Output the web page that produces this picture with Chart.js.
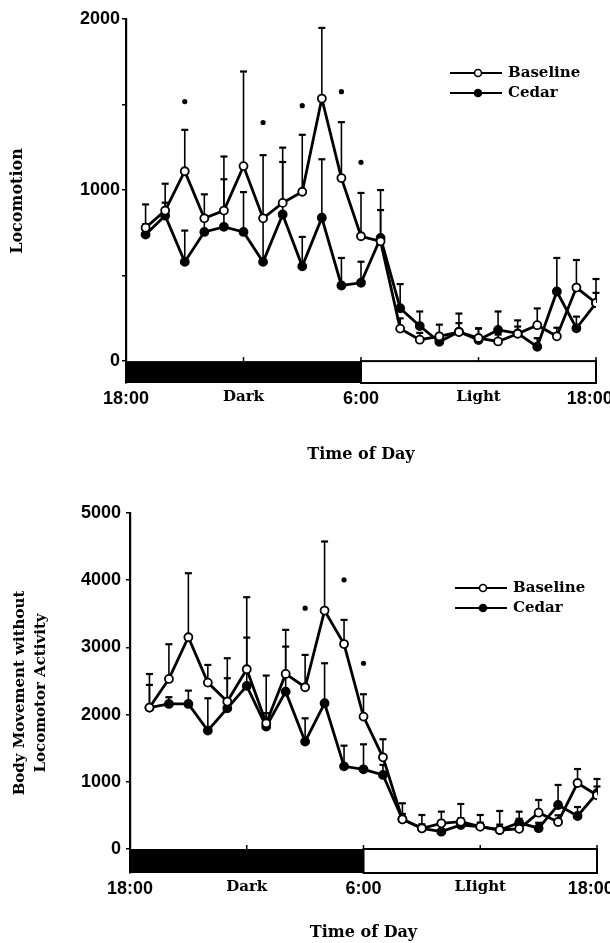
<!DOCTYPE html>
<html>
<head>
<meta charset="utf-8">
<script src="https://cdn.jsdelivr.net/npm/chart.js@4.4.0/dist/chart.umd.min.js"></script>
<style>
  html, body { margin: 0; padding: 0; background: #fff; }
  body { width: 610px; height: 943px; overflow: hidden; position: relative; }
  .panel { position: absolute; left: 0; width: 610px; }
  #top { top: 0; height: 470px; }
  #bottom { top: 470px; height: 473px; }
</style>
</head>
<body>
<div class="panel" id="top"><canvas id="locoChart"></canvas></div>
<div class="panel" id="bottom"><canvas id="bodyChart"></canvas></div>
<script>
// hour after 18:00 (1 = 19:00 ... 24 = 18:00)
const hours = [1, 2, 3, 4, 5, 6, 7, 8, 9, 10, 11, 12, 13, 14, 15, 16, 17, 18, 19, 20, 21, 22, 23, 24];
const timeTicks = [0, 6, 12, 18, 24];
// trailing spaces pull the last label back inside the page
const timeLabelsTop = ['18:00', 'Dark', '6:00', 'Light', '18:00\u2002\u2009'];
const timeLabelsBottom = ['18:00', 'Dark', '6:00', 'LIight', '18:00\u2002\u2009'];

// Locomotion
const locoBaseline = [780, 880, 1110, 835, 880, 1140, 835, 925, 990, 1535, 1070, 730, 700, 190, 125, 145, 170, 135, 115, 160, 210, 145, 430, 340];
const locoBaselineErr = [136, 157, 242, 140, 316, 553, 369, 323, 333, 413, 327, 253, 183, 60, 40, 68, 108, 55, 40, 78, 98, 50, 161, 140];
const locoCedar = [740, 850, 580, 755, 785, 755, 580, 857, 554, 838, 442, 458, 720, 309, 205, 113, 172, 123, 182, 162, 84, 407, 192, 339];
const locoCedarErr = [60, 76, 183, 80, 278, 233, 250, 307, 172, 342, 161, 123, 280, 141, 85, 40, 50, 69, 108, 40, 50, 196, 68, 60];
const locoStarHours = [3, 7, 9, 11, 12];
const locoStarValues = [1517, 1395, 1493, 1575, 1162];
const locoTicks = [0, 500, 1000, 1500, 2000];

// Body movement without locomotor activity
const bodyBaseline = [2104, 2531, 3151, 2476, 2194, 2675, 1871, 2605, 2407, 3548, 3050, 1970, 1365, 442, 308, 382, 407, 333, 283, 300, 540, 402, 982, 800];
const bodyBaselineErr = [500, 516, 953, 263, 645, 1072, 710, 656, 481, 1028, 359, 333, 268, 238, 198, 174, 263, 173, 283, 256, 190, 100, 208, 242];
const bodyCedar = [2104, 2159, 2159, 1762, 2094, 2427, 1821, 2342, 1598, 2169, 1230, 1186, 1102, 442, 308, 258, 357, 333, 283, 390, 310, 655, 491, 830];
const bodyCedarErr = [338, 100, 198, 481, 447, 719, 200, 670, 347, 595, 308, 372, 150, 80, 60, 100, 100, 60, 80, 60, 80, 298, 134, 100];
const bodyStarHours = [9, 11, 12];
const bodyStarValues = [3583, 4005, 2764];
const bodyTicks = [0, 1000, 2000, 3000, 4000, 5000];

Chart.defaults.font.family = 'DejaVu Serif';
Chart.defaults.font.weight = 'bold';
Chart.defaults.color = '#000';

const sansBold = { family: 'Liberation Sans', size: 18, weight: 'bold' };
const serifBold = { family: 'DejaVu Serif', size: 15, weight: 'bold' };

function series(label, values, errors, filled) {
    return {
        label: label,
        data: hours.map((h, i) => ({ x: h, y: values[i] })),
        errors: errors,
        keyed: true,
        borderColor: '#000',
        borderWidth: 2.8,
        tension: 0,
        pointRadius: 4,
        pointBorderWidth: 1.8,
        pointBorderColor: '#000',
        pointBackgroundColor: filled ? '#000' : '#fff'
    };
}

function stars(hrs, vals) {
    return {
        label: '*',
        data: hrs.map((h, i) => ({ x: h, y: vals[i] })),
        showLine: false,
        pointRadius: 2.6,
        pointBorderWidth: 0,
        pointBackgroundColor: '#000'
    };
}

// light/dark bar under the zero line
const phaseBar = {
    id: 'phaseBar',
    beforeDatasetsDraw(chart) {
        const { ctx, scales: { x, y } } = chart;
        const top = y.getPixelForValue(0);
        const bot = y.getPixelForValue(y.min);
        const x0 = x.getPixelForValue(0), x12 = x.getPixelForValue(12), x24 = x.getPixelForValue(24);
        ctx.save();
        ctx.fillStyle = '#000';
        ctx.fillRect(x0, top, x12 - x0, bot - top);
        ctx.strokeStyle = '#000';
        ctx.lineWidth = 2;
        ctx.strokeRect(x12, top, x24 - x12, bot - top);
        ctx.lineWidth = 1.5;
        timeTicks.forEach(t => {
            const px = x.getPixelForValue(t);
            ctx.beginPath();
            ctx.moveTo(px, top);
            ctx.lineTo(px, top - 4);
            ctx.stroke();
        });
        ctx.restore();
    }
};

// upward error bars
const errorBars = {
    id: 'errorBars',
    beforeDatasetsDraw(chart) {
        const { ctx, scales: { x, y } } = chart;
        ctx.save();
        ctx.strokeStyle = '#000';
        chart.data.datasets.forEach(ds => {
            if (!ds.errors) return;
            ds.data.forEach((p, i) => {
                const px = x.getPixelForValue(p.x);
                const y1 = y.getPixelForValue(p.y);
                const y2 = y.getPixelForValue(p.y + ds.errors[i]);
                ctx.lineWidth = 1.6;
                ctx.beginPath();
                ctx.moveTo(px, y1);
                ctx.lineTo(px, y2);
                ctx.stroke();
                ctx.lineWidth = 2.2;
                ctx.beginPath();
                ctx.moveTo(px - 3.5, y2);
                ctx.lineTo(px + 3.5, y2);
                ctx.stroke();
            });
        });
        ctx.restore();
    }
};

// legend: line with marker in the middle
const lineKey = {
    id: 'lineKey',
    afterDraw(chart, args, opts) {
        const ctx = chart.ctx;
        ctx.save();
        chart.data.datasets.filter(ds => ds.keyed).forEach((ds, i) => {
            const yy = opts.y + i * opts.gap;
            ctx.strokeStyle = '#000';
            ctx.lineWidth = 2;
            ctx.beginPath();
            ctx.moveTo(opts.x, yy);
            ctx.lineTo(opts.x + 52, yy);
            ctx.stroke();
            ctx.beginPath();
            ctx.arc(opts.x + 28, yy, 3.5, 0, Math.PI * 2);
            ctx.fillStyle = ds.pointBackgroundColor;
            ctx.fill();
            ctx.lineWidth = 1.6;
            ctx.stroke();
            ctx.fillStyle = '#000';
            ctx.font = 'bold 15px "DejaVu Serif"';
            ctx.textBaseline = 'middle';
            ctx.fillText(ds.label, opts.x + 58, yy);
        });
        ctx.restore();
    }
};

function makeChart(id, cfg) {
    const ctx = document.getElementById(id).getContext('2d');
    return new Chart(ctx, {
        type: 'line',
        data: {
            datasets: [
                series('Baseline', cfg.baseline, cfg.baselineErr, false),
                series('Cedar', cfg.cedar, cfg.cedarErr, true),
                stars(cfg.starHours, cfg.starValues)
            ]
        },
        options: {
            responsive: true,
            maintainAspectRatio: false,
            animation: false,
            layout: { padding: { top: cfg.top, right: cfg.right, left: 0, bottom: 0 } },
            plugins: {
                legend: { display: false },
                tooltip: { enabled: false },
                lineKey: cfg.key
            },
            scales: {
                x: {
                    type: 'linear',
                    min: 0,
                    max: 24,
                    afterBuildTicks: s => { s.ticks = timeTicks.map(v => ({ value: v })); },
                    afterFit: s => { s.height = cfg.xHeight; s.paddingLeft = 0; s.paddingRight = 0; },
                    border: { display: false },
                    grid: { display: false, drawTicks: false },
                    ticks: {
                        autoSkip: false,
                        maxRotation: 0,
                        padding: cfg.xPad,
                        color: '#000',
                        callback: (v, i) => cfg.timeLabels[i],
                        font: c => (c.index % 2 ? serifBold : sansBold)
                    },
                    title: {
                        display: true,
                        text: 'Time of Day',
                        color: '#000',
                        font: { family: 'DejaVu Serif', size: 16, weight: 'bold' },
                        padding: { top: 0, bottom: cfg.titlePad }
                    }
                },
                y: {
                    min: cfg.yMin,
                    max: cfg.yMax,
                    afterBuildTicks: s => { s.ticks = cfg.yTicks.map(v => ({ value: v })); },
                    afterFit: s => { s.width = cfg.yWidth; s.paddingTop = 0; s.paddingBottom = 0; },
                    border: { display: true, color: '#000', width: 2.2 },
                    grid: { display: true, drawOnChartArea: false, drawTicks: true, tickLength: 4, color: '#000', lineWidth: 1.5 },
                    ticks: {
                        padding: cfg.yPad,
                        color: '#000',
                        font: sansBold,
                        callback: v => (v % 1000 === 0 ? String(v) : '')
                    },
                    title: {
                        display: true,
                        text: cfg.yTitle,
                        color: '#000',
                        font: { family: 'DejaVu Serif', size: cfg.yTitleSize, weight: 'bold', lineHeight: 1.4 },
                        padding: { top: cfg.yTitlePad, bottom: 0 }
                    }
                }
            }
        },
        plugins: [phaseBar, errorBars, lineKey]
    });
}

makeChart('locoChart', {
    baseline: locoBaseline, baselineErr: locoBaselineErr,
    cedar: locoCedar, cedarErr: locoCedarErr,
    starHours: locoStarHours, starValues: locoStarValues,
    yTicks: locoTicks, yMin: -128, yMax: 2000,
    yTitle: 'Locomotion', yTitleSize: 16, yTitlePad: 7,
    timeLabels: timeLabelsTop,
    top: 19, right: 14, yWidth: 126, yPad: 2,
    xHeight: 87, xPad: 5, titlePad: 6,
    key: { x: 450, y: 73, gap: 20 }
});

makeChart('bodyChart', {
    baseline: bodyBaseline, baselineErr: bodyBaselineErr,
    cedar: bodyCedar, cedarErr: bodyCedarErr,
    starHours: bodyStarHours, starValues: bodyStarValues,
    yTicks: bodyTicks, yMin: -357, yMax: 5000,
    yTitle: ['Body Movement without', 'Locomotor Activity'], yTitleSize: 15, yTitlePad: 10,
    timeLabels: timeLabelsBottom,
    top: 43, right: 13, yWidth: 130, yPad: 5,
    xHeight: 70, xPad: 5, titlePad: 1,
    key: { x: 455, y: 118, gap: 20 }
});
</script>
</body>
</html>
